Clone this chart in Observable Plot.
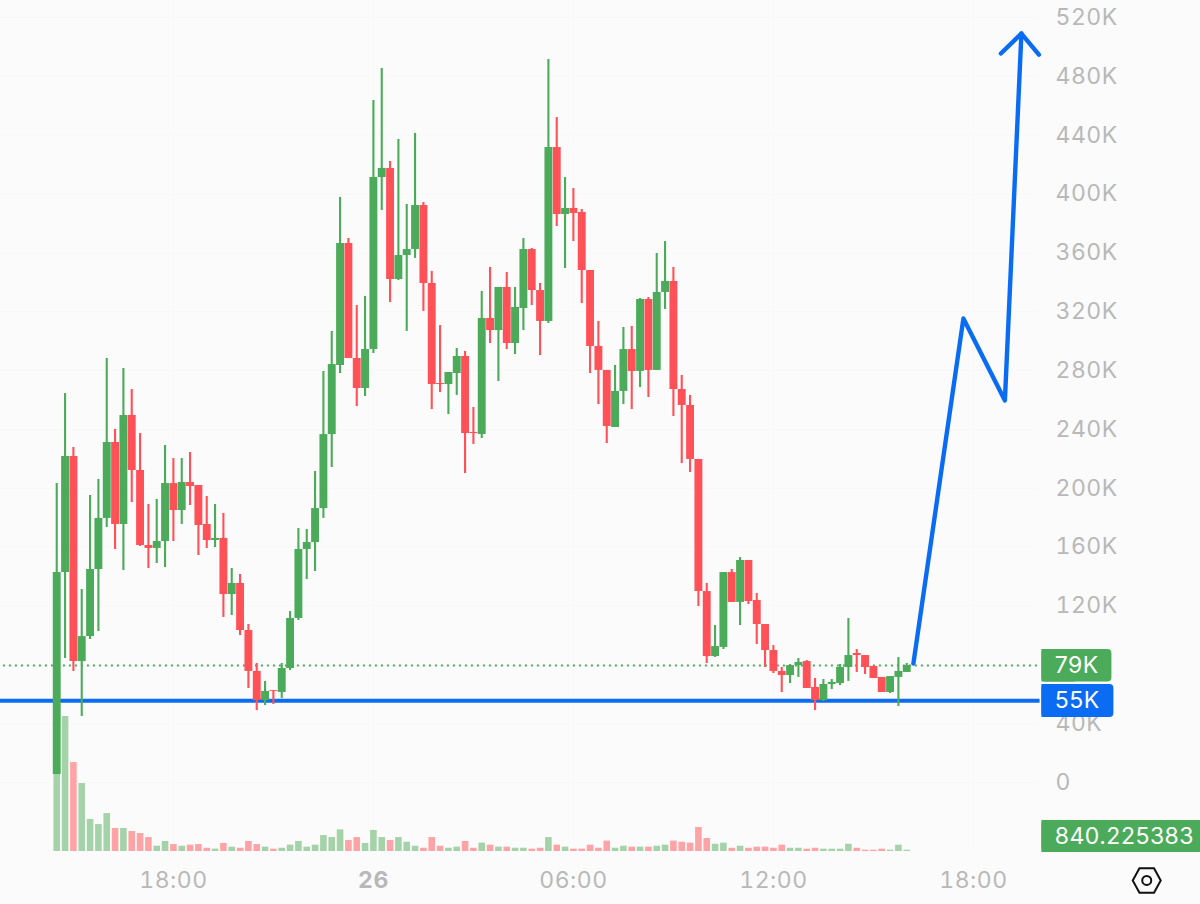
<!DOCTYPE html>
<html>
<head>
<meta charset="utf-8">
<script src="https://cdn.jsdelivr.net/npm/d3@7"></script>
<script src="https://cdn.jsdelivr.net/npm/@observablehq/plot@0.6"></script>
<style>
html,body{margin:0;padding:0;background:#fbfbfb;overflow:hidden}
svg{display:block}
</style>
</head>
<body>
<div id="chart"></div>
<script>
const opens = [5.4,142.7,221.6,82.2,99.2,144.8,179.5,231.1,175.4,249.5,212.1,161.1,159.1,163.8,203.2,184.9,203.9,201.9,175.4,164.5,165.9,127.8,135.3,103.3,75.5,55.7,62.5,61.2,77.5,111.5,158.4,163.1,186.2,236.5,283.5,366.4,288.2,267.8,294.3,411.2,417.4,341.9,358.2,362.3,392.2,339.2,271.2,270.5,278,289.6,237.9,236.5,315.4,307.2,336.5,298.4,322.2,362.3,334.4,313.4,431.6,386.1,390.2,387.5,348,296.4,280.1,241.3,265.8,294.3,279.4,328.3,280.1,333.1,340.6,267.1,256.3,219.6,129.8,85.6,91.8,142.7,122.4,150.9,123.7,107.4,89.7,75.5,72.7,79.5,82.2,64.6,55.7,66.6,67.3,78.2,87.7,86.3,78.9,71.4,61.2,71.4,74.8];
const closes = [142.7,221.6,82.2,99.2,144.8,179.5,231.1,175.4,249.5,212.1,161.1,159.1,163.8,203.2,184.9,203.9,201.2,174.7,164.5,165.9,127.8,135.3,103.3,75.5,55.7,61.9,61.9,77.5,111.5,158.4,163.1,186.2,236.5,284.1,366.4,288.2,267.8,294.3,411.2,417.4,341.9,358.2,362.3,392.2,339.2,270.5,270.5,278.7,289.6,237.2,237.2,315.4,307.2,336.5,298.4,322.9,362.3,334.4,313.4,431.6,386.1,390.2,386.8,348,296.4,280.1,242,265.8,294.3,279.4,328.3,280.1,333.1,340.6,267.1,256.3,219.6,129.8,85.6,92.4,142.7,122.4,150.9,123,107.4,89.7,75.5,72.7,79.5,81.6,63.9,55.7,66.6,68,78.2,86.3,86.3,78.2,70.7,61.2,72,75.5,79.5];
const highs = [203.2,264.4,227.7,131.2,195.1,206,288.2,240,281.4,267.1,237.2,189,192.4,229.1,220.2,220.2,224.3,201.9,194.4,189,182.9,145.5,141.4,107.4,80.9,68.7,62.5,80.9,116.2,172.7,172,211.4,279.4,306.6,397.7,369.8,324.2,330.4,463.6,485.3,422.1,437.1,392.9,441.2,394.2,347.4,310.6,278.7,295,293,254.9,333.8,350.1,336.5,346.7,336.5,369.8,363,339.2,491.5,452,411.2,403.8,389.5,348,313.4,280.1,283.5,309.3,310,329,329.7,359.6,367.7,350.1,276.7,263.1,219.6,135.3,106.7,142.7,144.8,152.9,150.9,128.5,107.4,93.1,78.2,80.2,84.3,82.9,70.7,70,70,80.2,111.5,90.4,86.3,78.9,71.4,72,85,80.9];
const lows = [5.4,84.3,75.5,44.9,97.2,102.6,173.3,158.4,144.1,190.3,160.4,145.5,148.9,146.1,163.8,175.4,188.3,154.3,159.1,159.7,112.2,113.5,99.9,63.9,48.9,52.3,53,57.1,76.1,110.1,138,143.4,179.5,214.1,278,288.2,255.6,262.4,291.6,388.8,326.3,341.2,306.6,356.2,320.2,253.5,265.1,250.1,263.1,210,229.8,233.8,298.4,272.6,294.3,290.9,307.2,324.2,290.2,312,377.9,349.4,367.7,325.6,278,256.9,230.4,241.3,256.9,253.5,268.5,261.7,280.1,321.5,248.8,216.8,210.7,119.6,80.9,85,90.4,122.4,106.7,121,93.8,78.2,74.1,61.2,67.3,71.4,63.9,48.9,55.1,63.2,65.9,68.7,74.8,73.4,70.7,61.2,60.5,51.7,74.8];
const volumes = [64.6,87.2,57.5,43.9,20.7,17.4,24.5,14.9,14.9,12.9,11.6,9,3.4,6.5,4.5,3.4,4.1,4.5,2.1,1.5,5.2,2.8,2.1,6.5,4.5,2.8,1.5,2.1,4.1,6.5,2.8,4.1,10.3,9,14,7.1,9,5.2,13.6,9,7.1,9,6,3.4,2.1,9,3.4,2.1,2.8,6.5,2.1,5.4,4.1,2.8,2.8,2.1,2.1,1.5,2.1,9,4.1,2.8,1.5,1.5,4.1,2.1,6.7,2.1,3.4,2.8,2.8,2.8,3.4,4.1,6.7,6,5.4,15.5,8.4,4.7,5.4,2.1,3.4,2.1,2.8,2.8,2.1,4.1,2.1,2.1,1.5,2.1,1.5,1.5,1.5,4.7,2.1,0.84,0.84,1.5,0.84,4.1,0.84];
const priceTicks = [0,40,120,160,200,240,280,320,360,400,440,480,520];
const timeTickHours = [0,12,18,24];
const timeTickLabels = ["18:00","06:00","12:00","18:00"];
const dayTickHour = 6;
const dayTickLabel = "26";
const trendHours = [22.2,23.7,24.945,25.44];
const trendValues = [80.9,315.4,259.7,509.1];
const arrowHours = [24.825,25.44,25.965];
const arrowValues = [495.5,509.1,494.8];
const lastPrice = 79.5, supportPrice = 55.6;

const GREEN = "#4cab5a", RED = "#ff5157", BLUE = "#0a6cf2", TICK = "#b8b8b8";
const FONT = "Inter, 'Noto Sans', sans-serif";
const T0 = Date.UTC(2024,0,25,18);
const hour = h => new Date(T0 + h*3600e3);
const firstHour = -3.5;
const candles = opens.map((o,i)=>({t:hour(firstHour+i*0.25),o,c:closes[i],h:highs[i],l:lows[i],v:volumes[i],up:closes[i]>=o}));
const VOL_BASE = -46.9, VOL_K = 1.052;
const lineEnd = hour(26.0);
const lineStart = hour(-6);

const hexSymbol = {draw(ctx,size){const r=Math.sqrt(size/Math.PI);
  const hw=r, hh=r*0.88, q=r*0.52;
  ctx.moveTo(-hw,0);ctx.lineTo(-q,-hh);ctx.lineTo(q,-hh);ctx.lineTo(hw,0);ctx.lineTo(q,hh);ctx.lineTo(-q,hh);ctx.closePath();}};

const tags = [
 {x1:26.055,x2:28.155,y1:68.3,y2:90.4,fill:GREEN,label:"79K",ty:79.5},
 {x1:26.055,x2:28.215,y1:44.2,y2:66.6,fill:BLUE,label:"55K",ty:55.6},
 {x1:26.055,x2:31,y1:-47.6,y2:-25.8,fill:GREEN,label:"840.225383",ty:-36.5}
];
const hourTime = k => d => hour(d[k]);

const plot = Plot.plot({
  width:1200,height:904,
  marginLeft:0,marginTop:0,marginRight:145,marginBottom:33,
  style:{background:"#fbfbfb",fontFamily:FONT,fontSize:"23px",letterSpacing:"0.5px"},
  x:{type:"utc",domain:[hour(0),hour(24)],range:[172.9,972.9]},
  y:{type:"linear",domain:[0,520],range:[782,17]},
  marks:[
    Plot.ruleX(timeTickHours.concat([dayTickHour]).map(hour),{x:d=>d,y1:-47,y2:530,stroke:"#f8f8f8"}),
    Plot.ruleY(priceTicks,{y:d=>d,x1:lineStart,x2:hour(26),stroke:"#f8f8f8"}),
    Plot.axisY({ticks:priceTicks,anchor:"right",tickSize:0,tickPadding:0,tickFormat:d=>d===0?"0":d+"K",fill:TICK,label:null,fontSize:23}),
    Plot.axisX({ticks:timeTickHours.map(hour),anchor:"bottom",tickSize:0,tickPadding:0,tickFormat:d=>timeTickLabels[timeTickHours.indexOf((+d-T0)/3600e3)],fill:TICK,label:null,fontSize:23}),
    Plot.axisX({ticks:[hour(dayTickHour)],anchor:"bottom",tickSize:0,tickPadding:0,tickFormat:()=>dayTickLabel,fill:TICK,label:null,fontSize:23,fontWeight:"bold"}),
    Plot.ruleX(candles,{x:"t",y1:VOL_BASE,y2:d=>VOL_BASE+d.v*VOL_K,stroke:d=>d.up?"#a4d2a9":"#ffa3a6",strokeWidth:6.6}),
    Plot.ruleY([lastPrice],{x1:lineStart,x2:lineEnd,stroke:GREEN,strokeWidth:2,strokeDasharray:"2 4"}),
    Plot.ruleY([supportPrice],{x1:lineStart,x2:lineEnd,stroke:BLUE,strokeWidth:4}),
    Plot.ruleX(candles,{x:"t",y1:"l",y2:"h",stroke:d=>d.up?GREEN:RED,strokeWidth:2.1}),
    Plot.ruleX(candles,{x:"t",y1:"o",y2:"c",stroke:d=>d.up?GREEN:RED,strokeWidth:7.9}),
    Plot.line(trendHours.map((h,i)=>({t:hour(h),v:trendValues[i]})),{x:"t",y:"v",stroke:BLUE,strokeWidth:4.4,strokeLinejoin:"round",strokeLinecap:"round"}),
    Plot.line(arrowHours.map((h,i)=>({t:hour(h),v:arrowValues[i]})),{x:"t",y:"v",stroke:BLUE,strokeWidth:4.4,strokeLinejoin:"round",strokeLinecap:"round"}),
    Plot.rect(tags,{x1:hourTime("x1"),x2:hourTime("x2"),y1:"y1",y2:"y2",fill:"fill",rx:4}),
    Plot.rect(tags,{x1:hourTime("x1"),x2:d=>hour(d.x1+1),y1:"y1",y2:"y2",fill:"fill"}),
    Plot.text(tags,{x:()=>hour(26.44),y:"ty",text:"label",fill:"#fff",textAnchor:"start",fontSize:23}),
    Plot.dot([0],{x:()=>hour(29.2),y:()=>-66.6,symbol:hexSymbol,r:14,stroke:"#111",strokeWidth:2,fill:"none"}),
    Plot.dot([0],{x:()=>hour(29.2),y:()=>-66.6,r:4.5,stroke:"#111",strokeWidth:2,fill:"none"})
  ]
});
document.getElementById("chart").appendChild(plot);
</script>
</body>
</html>
